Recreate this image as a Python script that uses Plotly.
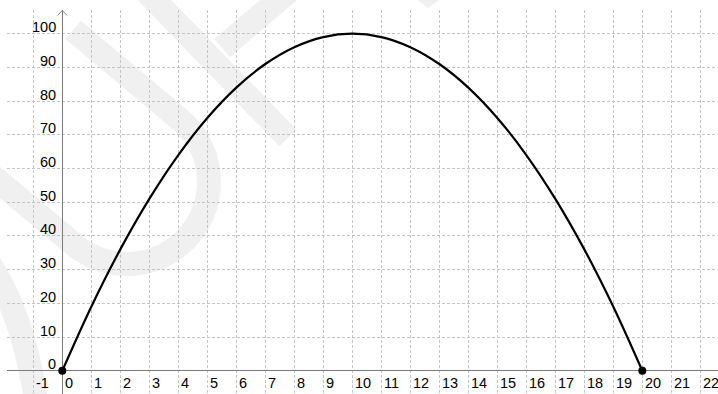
import math
import plotly.graph_objects as go

# Parabola values read at integer x
x_vals = list(range(0, 21))
y_vals = [0, 19, 36, 51, 64, 75, 84, 91, 96, 99, 100, 99, 96, 91, 84, 75, 64, 51, 36, 19, 0]

# Highlighted endpoints (roots)
pt_x = [0, 20]
pt_y = [0, 0]

# Tick labels
x_ticks = list(range(-1, 23))
y_ticks = list(range(0, 101, 10))

W, H = 718, 394
ML, MT = 7, 10
PW, PH = W - ML, H - MT

X_RANGE = [-1.907, 22.610]
Y_RANGE = [-6.91, 107.03]

def to_paper(px, py):
    return ((px - ML) / PW, 1 - (py - MT) / PH)

def path_from_pixels(points):
    parts = []
    for i, (px, py) in enumerate(points):
        xp, yp = to_paper(px, py)
        parts.append(("M" if i == 0 else "L") + f"{xp:.5f},{yp:.5f}")
    return " ".join(parts)

WM = "#f0f0f0"
WM_W = 24
shapes = []

# Background watermark: rotated "U"
cx, cy, r = 127, 182, 82
ang = math.radians(40)
ux, uy = math.cos(ang), math.sin(ang)          # arm direction (down-right)
nx, ny = math.sin(ang), -math.cos(ang)          # toward upper arm
a_end = (cx + r * nx, cy + r * ny)
b_end = (cx - r * nx, cy - r * ny)
a_top = (a_end[0] - 139 * ux, a_end[1] - 139 * uy)
b_far = (b_end[0] - 150 * ux, b_end[1] - 150 * uy)
a0 = math.atan2(ny, nx)
arc = [(cx + r * math.cos(a0 + math.pi * k / 40), cy + r * math.sin(a0 + math.pi * k / 40)) for k in range(41)]
u_pts = [a_top] + arc + [b_far]
shapes.append(dict(type="path", xref="paper", yref="paper", layer="below",
                   path=path_from_pixels(u_pts), line=dict(color=WM, width=WM_W)))

# Watermark: diagonal stroke and short arm near the top
shapes.append(dict(type="path", xref="paper", yref="paper", layer="below",
                   path=path_from_pixels([(140, -15), (288, 138)]), line=dict(color=WM, width=WM_W)))
shapes.append(dict(type="path", xref="paper", yref="paper", layer="below",
                   path=path_from_pixels([(300, -18), (222, 48)]), line=dict(color=WM, width=WM_W)))
# Watermark: small tip at the top edge
tri = [to_paper(415, -2), to_paper(442, -2), to_paper(428, 8)]
shapes.append(dict(type="path", xref="paper", yref="paper", layer="below",
                   path=f"M{tri[0][0]:.5f},{tri[0][1]:.5f} L{tri[1][0]:.5f},{tri[1][1]:.5f} L{tri[2][0]:.5f},{tri[2][1]:.5f} Z",
                   fillcolor=WM, line=dict(width=0)))
# Watermark: arc at lower left
q0, q1, q2 = to_paper(-12, 262), to_paper(22, 310), to_paper(36, 400)
shapes.append(dict(type="path", xref="paper", yref="paper", layer="below",
                   path=f"M{q0[0]:.5f},{q0[1]:.5f} Q{q1[0]:.5f},{q1[1]:.5f} {q2[0]:.5f},{q2[1]:.5f}",
                   line=dict(color=WM, width=WM_W)))

# Arrowhead at the top of the y-axis
arrow = [to_paper(57.5, 15.5), to_paper(62.3, 10.5), to_paper(67.1, 15.5)]
shapes.append(dict(type="path", xref="paper", yref="paper", layer="above",
                   path=f"M{arrow[0][0]:.5f},{arrow[0][1]:.5f} L{arrow[1][0]:.5f},{arrow[1][1]:.5f} L{arrow[2][0]:.5f},{arrow[2][1]:.5f}",
                   line=dict(color="#808080", width=1)))

fig = go.Figure()
fig.add_trace(go.Scatter(x=x_vals, y=y_vals, mode="lines",
                         line=dict(color="black", width=2.2, shape="spline"),
                         hoverinfo="skip", showlegend=False))
fig.add_trace(go.Scatter(x=pt_x, y=pt_y, mode="markers",
                         marker=dict(color="black", size=8),
                         hoverinfo="skip", showlegend=False))

label_font = dict(family="Liberation Sans, Arial, sans-serif", size=14.5, color="black")
annotations = []
for t in x_ticks:
    annotations.append(dict(x=t, y=0, xref="x", yref="y", text=str(t), showarrow=False,
                            xanchor="left", yanchor="middle", xshift=0.5, yshift=-12,
                            font=label_font))
for t in y_ticks:
    annotations.append(dict(x=0, y=t, xref="x", yref="y", text=str(t), showarrow=False,
                            xanchor="right", yanchor="middle", xshift=-4, yshift=6.5,
                            font=label_font))

grid = dict(showgrid=True, gridcolor="#c4c4c4", gridwidth=1, griddash="3px,2px",
            zeroline=True, zerolinecolor="#7a7a7a", zerolinewidth=1,
            showticklabels=False, ticks="", showline=False, fixedrange=True)

fig.update_layout(
    width=W, height=H,
    margin=dict(l=ML, r=0, t=MT, b=0, pad=0),
    paper_bgcolor="white",
    plot_bgcolor="rgba(0,0,0,0)",
    xaxis=dict(range=X_RANGE, tick0=0, dtick=1, **grid),
    yaxis=dict(range=Y_RANGE, tick0=0, dtick=10, **grid),
    shapes=shapes,
    annotations=annotations,
    showlegend=False,
)

fig.write_html("out.html", config={"displayModeBar": False})
